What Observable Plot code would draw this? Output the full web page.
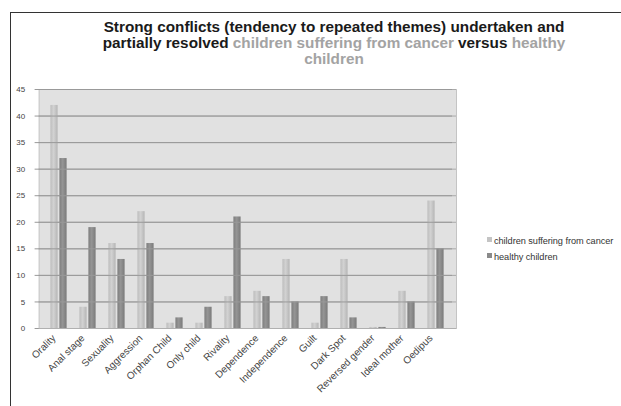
<!DOCTYPE html>
<html>
<head>
<meta charset="utf-8">
<script src="https://cdn.jsdelivr.net/npm/d3@7"></script>
<script src="https://cdn.jsdelivr.net/npm/@observablehq/plot@0.6"></script>
<style>
  html, body { margin: 0; padding: 0; background: #fff; }
  #wrap { position: relative; width: 621px; height: 406px; overflow: hidden; font-family: "Liberation Sans", Arial, sans-serif; }
  #frameL { position: absolute; left: 10px; top: 12px; width: 1px; height: 400px; background: #333; }
  #frameT { position: absolute; left: 10px; top: 12px; width: 620px; height: 1px; background: #333; }
  #title { position: absolute; left: 34px; top: 19px; width: 600px; text-align: center; font-weight: bold; font-size: 15.3px; line-height: 16px; color: #1a1a1a; white-space: nowrap; }
  #title .g { color: #a3a3a3; }
  #chart { position: absolute; left: 0; top: 80px; }
  #legend { position: absolute; left: 487px; top: 234px; font-size: 9.2px; letter-spacing: -0.05px; color: #333; line-height: 15.5px; white-space: nowrap; }
  #legend .sw { display: inline-block; width: 5px; height: 5px; margin-right: 2px; vertical-align: 2px; }
</style>
</head>
<body>
<div id="wrap">
  <div id="frameL"></div>
  <div id="frameT"></div>
  <div id="title"></div>
  <div id="chart"></div>
  <div id="legend"></div>
</div>
<script>
const categories = ["Orality", "Anal stage", "Sexuality", "Aggression", "Orphan Child", "Only child", "Rivality", "Dependence", "Independence", "Guilt", "Dark Spot", "Reversed gender", "Ideal mother", "Oedipus"];
const cancerValues = [42, 4, 16, 22, 1, 1, 6, 7, 13, 1, 13, 0.2, 7, 24];
const healthyValues = [32, 19, 13, 16, 2, 4, 21, 6, 5, 6, 2, 0.2, 5, 15];
const seriesNames = ["children suffering from cancer", "healthy children"];
const yTicks = [0, 5, 10, 15, 20, 25, 30, 35, 40, 45];
const titleParts = [
  ["Strong conflicts (tendency to repeated themes) undertaken and", "k"],
  ["\n", "k"],
  ["partially resolved ", "k"],
  ["children suffering from cancer", "g"],
  [" versus ", "k"],
  ["healthy", "g"],
  ["\n", "k"],
  ["children", "g"]
];
const seriesColors = ["#c4c4c4", "#8a8a8a"];

// title
const t = document.getElementById("title");
for (const [txt, c] of titleParts) {
  if (txt === "\n") { t.appendChild(document.createElement("br")); continue; }
  const s = document.createElement("span");
  if (c === "g") s.className = "g";
  s.textContent = txt;
  t.appendChild(s);
}

// legend
const lg = document.getElementById("legend");
seriesNames.forEach((n, i) => {
  const d = document.createElement("div");
  d.innerHTML = `<span class="sw" style="background:${seriesColors[i]}"></span>${n}`;
  lg.appendChild(d);
});

const cancer = categories.map((c, i) => ({category: c, value: cancerValues[i]}));
const healthy = categories.map((c, i) => ({category: c, value: healthyValues[i]}));

const chart = Plot.plot({
  width: 470,
  height: 326,
  marginLeft: 38.6,
  marginRight: 14,
  marginTop: 9,
  marginBottom: 78,
  style: {fontFamily: "Liberation Sans, Arial, sans-serif", background: "transparent"},
  x: {domain: categories, padding: 0, label: null},
  y: {domain: [0, 45], label: null},
  marks: [
    Plot.frame({fill: "#e1e1e1", stroke: "#c4c4c4"}),
    Plot.ruleY(yTicks.filter(d => d > 0), {stroke: "#a9a9a9", strokeWidth: 1}),
    Plot.barY(cancer, {x: "category", y: "value", insetLeft: 6.4, insetRight: 15.4, fill: "url(#gLight)"}),
    Plot.barY(healthy, {x: "category", y: "value", insetLeft: 15.4, insetRight: 6.4, fill: "url(#gDark)"}),
    Plot.tickY(yTicks, {y: d => d, dx: -4, stroke: "#999"}),
    Plot.ruleY([0], {stroke: "#b0b0b0"}),
    Plot.axisY({ticks: yTicks, tickSize: 0, tickPadding: 14, fontSize: 8, fill: "#444"}),
    Plot.axisX({tickSize: 0, tickRotate: -45, tickPadding: 8, fontSize: 10, fill: "#444", dx: -5})
  ]
});
const defs = d3.select(chart).insert("defs", ":first-child");
function grad(id, a, b, c) {
  const g = defs.append("linearGradient").attr("id", id).attr("x1", "0").attr("x2", "1").attr("y1", "0").attr("y2", "0");
  g.append("stop").attr("offset", "0%").attr("stop-color", a);
  g.append("stop").attr("offset", "45%").attr("stop-color", b);
  g.append("stop").attr("offset", "100%").attr("stop-color", c);
}
grad("gLight", "#bdbdbd", "#d2d2d2", "#b5b5b5");
grad("gDark", "#7e7e7e", "#959595", "#7a7a7a");
document.getElementById("chart").appendChild(chart);
</script>
</body>
</html>
